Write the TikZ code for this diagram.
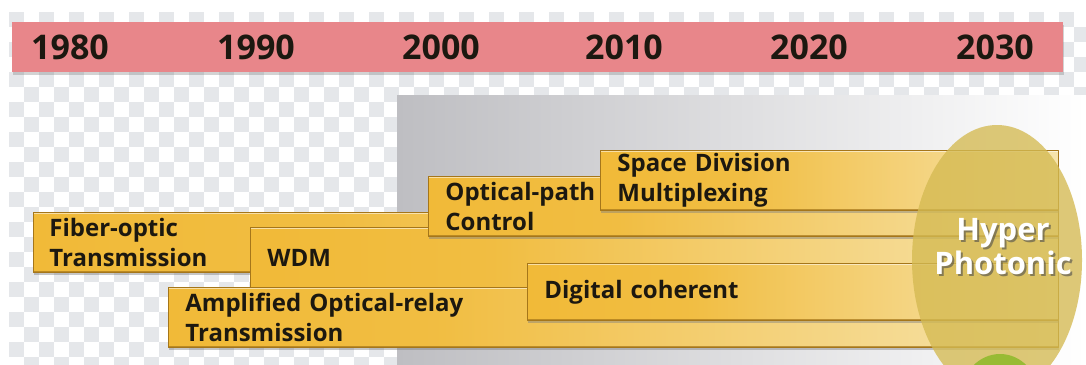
\documentclass[tikz,border=0pt]{standalone}
\usepackage{fontspec}
\setmainfont{Open Sans}
\usetikzlibrary{shadows}
\definecolor{yearred}{RGB}{232,134,138}
\definecolor{bargold}{RGB}{240,180,40}
\definecolor{barcream}{RGB}{248,242,212}
\definecolor{barrim}{RGB}{165,118,26}
\definecolor{checker}{RGB}{229,231,234}
\definecolor{panelgray}{RGB}{190,190,194}
\definecolor{hyperolive}{RGB}{212,186,82}
\definecolor{inkdark}{RGB}{28,24,16}
\pgfdeclarehorizontalshading{barfade}{100bp}{color(0bp)=(bargold); color(40bp)=(bargold!85!barcream); color(88bp)=(barcream); color(100bp)=(barcream)}
\begin{document}
\begin{tikzpicture}[x=1pt, y=-1pt, line join=round,
  techbar/.style={anchor=north west, shading=barfade, draw=barrim, line width=.8pt,
    inner sep=0pt, align=left, text=inkdark,
    font=\fontsize{24}{30}\selectfont\bfseries,
    drop shadow={shadow xshift=1pt, shadow yshift=-3pt, opacity=.45},
    path picture={
      \draw[line width=3pt, white, opacity=.55] (path picture bounding box.north west) -- (path picture bounding box.north east);
      \draw[line width=2.5pt, barrim, opacity=.7] (path picture bounding box.south west) -- (path picture bounding box.south east);}},
  yearlabel/.style={text=inkdark, font=\fontsize{34}{34}\selectfont\bfseries}]
\useasboundingbox (0,0) rectangle (1086,364);
% transparent checker background
\foreach \x in {9,39,...,1060}
  \foreach \y in {12,42,...,360}{
    \fill[checker] (\x,\y) rectangle ++(15,15);
    \fill[checker] (\x+15,\y+15) rectangle ++(15,15);}
% time axis
\node[anchor=north west, fill=yearred, minimum width=1051, minimum height=50, inner sep=0pt,
  drop shadow={shadow xshift=1pt, shadow yshift=-3pt, opacity=.35}] (timeline) at (12,22) {};
\foreach \yr/\x in {1980/70,1990/256,2000/441,2010/624,2020/809,2030/995}
  \node[yearlabel] (y\yr) at (\x,47) {\yr};
% grey backdrop
\fill[left color=panelgray, right color=white] (397,95) rectangle (1086,364);
% technology bars
\node[techbar, minimum width=1025, minimum height=60, text width=993] (fiber) at (33,212) {Fiber-optic\\Transmission};
\node[techbar, minimum width=808, minimum height=62, text width=774] (wdm) at (250,227) {WDM};
\node[techbar, minimum width=630, minimum height=60, text width=596] (opath) at (428,176) {Optical-path\\Control};
\node[techbar, minimum width=458, minimum height=60, text width=424] (sdm) at (600,150) {Space Division\\Multiplexing};
\node[techbar, minimum width=890, minimum height=60, text width=856] (amp) at (168,287) {Amplified Optical-relay\\Transmission};
\node[techbar, minimum width=531, minimum height=57, text width=497] (digital) at (527,263) {Digital coherent};
% hyper photonic
\fill[hyperolive, opacity=.78] (997,260) ellipse [x radius=85, y radius=135];
\fill[green!45!yellow!70!black, opacity=.55] (1000,394) ellipse [x radius=38, y radius=40];
\node[text=black!70, opacity=.6, align=center, font=\fontsize{31}{34}\selectfont\bfseries] at (1005,249) {Hyper\\Photonic};
\node[text=white, align=center, font=\fontsize{31}{34}\selectfont\bfseries] (hyper) at (1003,247) {Hyper\\Photonic};
\end{tikzpicture}
\end{document}
